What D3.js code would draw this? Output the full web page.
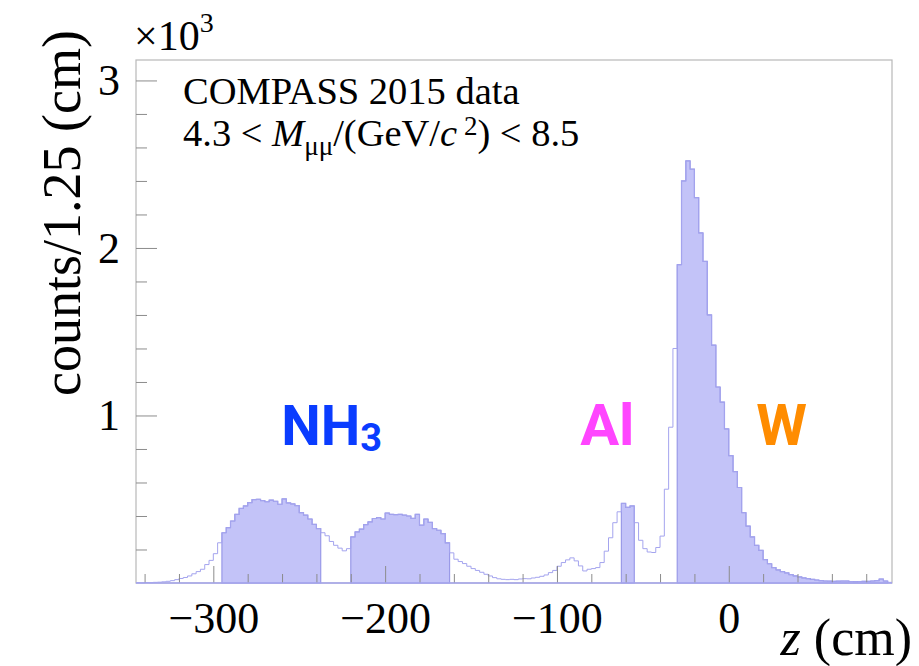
<!DOCTYPE html>
<html>
<head>
<meta charset="utf-8">
<script src="https://cdn.jsdelivr.net/npm/d3@7"></script>
<style>
  body { margin: 0; background: #fff; }
</style>
</head>
<body>
<div id="chart"></div>
<script>
// histogram bins along z, 2.5 cm wide, first edge at -345 cm
let binStart = -345;
let binWidth = 2.5;
let counts = [
  2, 1, 3, 2, 4, 5, 7, 10, 14, 20,
  27, 33, 42, 55, 68, 82, 110, 135, 175, 240,
  300, 330, 370, 410, 445, 460, 480, 498, 500, 492,
  485, 495, 488, 470, 502, 478, 472, 462, 420, 405,
  382, 350, 325, 300, 282, 248, 225, 208, 192, 205,
  275, 305, 322, 348, 365, 385, 390, 382, 418, 410,
  408, 410, 405, 400, 386, 410, 345, 382, 362, 325,
  315, 295, 240, 180, 142, 128, 116, 100, 86, 75,
  64, 52, 42, 32, 25, 22, 20, 22, 20, 24,
  26, 25, 30, 34, 40, 48, 62, 75, 100, 122,
  138, 150, 132, 102, 72, 82, 86, 92, 122, 190,
  270, 360, 425, 475, 452, 460, 360, 255, 205, 185,
  182, 212, 280, 560, 930, 1400, 1900, 2400, 2520, 2470,
  2300, 2090, 1920, 1600, 1420, 1170, 1080, 920, 760, 665,
  570, 420, 340, 275, 225, 195, 140, 115, 92, 78,
  68, 60, 50, 42, 36, 30, 26, 22, 18, 14,
  12, 11, 10, 11, 12, 12, 9, 8, 9, 10,
  10, 12, 14, 24, 12, 4
];

// z ranges of the target cells (shaded)
let cellCuts = [[-295, -237.5], [-220, -162.5], [-62.5, -55], [-30, 92.5]];

let xTickValues = [-300, -200, -100, 0];
let yTickValues = [1000, 2000, 3000];

let targetNames = ["NH", "Al", "W"];
let targetColors = ["#0a3cff", "#ff45ff", "#ff8c00"];

let serif = "Liberation Serif, Times New Roman, serif";

let W = 919, H = 666;
let margin = {top: 60, left: 136, bottom: 83, right: 27};

let xScale = d3.scaleLinear()
  .domain([-345, 95])
  .range([margin.left, W - margin.right]);

let yScale = d3.scaleLinear()
  .domain([0, 3122])
  .range([H - margin.bottom, margin.top]);

let svg = d3.select("#chart").append("svg")
    .attr("width", W)
    .attr("height", H);

let bins = counts.map((c, i) => ({x0: binStart + i * binWidth, v: c}));

function stepPoints(bs) {
  let pts = bs.map(d => [d.x0, d.v]);
  let last = bs[bs.length - 1];
  pts.push([last.x0 + binWidth, last.v]);
  return pts;
}

let line = d3.line()
  .x(d => xScale(d[0]))
  .y(d => yScale(d[1]))
  .curve(d3.curveStepAfter);

let area = d3.area()
  .x(d => xScale(d[0]))
  .y0(yScale(0))
  .y1(d => yScale(d[1]))
  .curve(d3.curveStepAfter);

// frame
svg.append("rect")
  .attr("x", margin.left)
  .attr("y", margin.top)
  .attr("width", W - margin.left - margin.right)
  .attr("height", H - margin.top - margin.bottom)
  .attr("fill", "none")
  .attr("stroke", "#b8b8b8")
  .attr("stroke-width", 1.2);

// shaded cells
cellCuts.forEach(c => {
  let sel = bins.filter(d => d.x0 >= c[0] - 0.01 && d.x0 + binWidth <= c[1] + 0.01);
  svg.append("path")
    .datum(stepPoints(sel))
    .attr("fill", "#c3c3f8")
    .attr("stroke", "#9a9ae8")
    .attr("stroke-width", 1.2)
    .attr("d", area);
});

// full outline
svg.append("path")
  .datum(stepPoints(bins))
  .attr("fill", "none")
  .attr("stroke", "#a4a4ee")
  .attr("stroke-width", 1)
  .attr("d", line);

// x axis (ticks pointing inward)
let xMinor = d3.range(-340, 95, 20).filter(v => v % 100 !== 0);
svg.append("g")
  .attr("transform", `translate(0, ${yScale(0)})`)
  .call(d3.axisBottom(xScale).tickValues(xMinor).tickSize(-9).tickFormat(""))
  .call(g => g.select(".domain").remove())
  .call(g => g.selectAll("line").attr("stroke", "#8c8c8c"));

svg.append("g")
  .attr("transform", `translate(0, ${yScale(0)})`)
  .attr("font-family", serif)
  .call(d3.axisBottom(xScale).tickValues(xTickValues).tickSize(-17).tickPadding(19))
  .call(g => g.select(".domain").remove())
  .call(g => g.selectAll("line").attr("stroke", "#8c8c8c"))
  .call(g => g.attr("font-family", serif).attr("font-size", 44))
  .call(g => g.selectAll("text").attr("fill", "#000"));

// bottom edge drawn in histogram colour
svg.append("line")
  .attr("x1", xScale(-345)).attr("x2", xScale(95))
  .attr("y1", yScale(0)).attr("y2", yScale(0))
  .attr("stroke", "#a4a4ee")
  .attr("stroke-width", 1.5);

// y axis
let yMinor = d3.range(200, 3001, 200).filter(v => v % 1000 !== 0);
svg.append("g")
  .attr("transform", `translate(${margin.left}, 0)`)
  .call(d3.axisLeft(yScale).tickValues(yMinor).tickSize(-11).tickFormat(""))
  .call(g => g.select(".domain").remove())
  .call(g => g.selectAll("line").attr("stroke", "#8c8c8c"));

svg.append("g")
  .attr("transform", `translate(${margin.left}, 0)`)
  .call(d3.axisLeft(yScale).tickValues(yTickValues).tickSize(-21).tickPadding(16)
    .tickFormat(d => d / 1000))
  .call(g => g.select(".domain").remove())
  .call(g => g.selectAll("line").attr("stroke", "#8c8c8c"))
  .call(g => g.attr("font-family", serif).attr("font-size", 44))
  .call(g => g.selectAll("text").attr("fill", "#000"));

// x10^3
let mult = svg.append("text")
  .attr("x", 134).attr("y", 50)
  .attr("font-family", serif)
  .attr("font-size", 42);
mult.append("tspan").text("\u00d710");
mult.append("tspan").attr("font-size", 28).attr("dy", -18).text("3");

// axis titles
svg.append("text")
  .attr("transform", "translate(80, 30) rotate(-90)")
  .attr("text-anchor", "end")
  .attr("font-family", serif)
  .attr("font-size", 54)
  .text("counts/1.25 (cm)");

let xt = svg.append("text")
  .attr("x", 912).attr("y", 655)
  .attr("text-anchor", "end")
  .attr("font-family", serif)
  .attr("font-size", 52);
xt.append("tspan").attr("font-style", "italic").text("z");
xt.append("tspan").text(" (cm)");

// caption
svg.append("text")
  .attr("x", 183).attr("y", 104)
  .attr("font-family", serif)
  .attr("font-size", 38.5)
  .text("COMPASS 2015 data");

let cap = svg.append("text")
  .attr("x", 183).attr("y", 146)
  .attr("font-family", serif)
  .attr("font-size", 38.5);
cap.append("tspan").text("4.3 < ");
cap.append("tspan").attr("font-style", "italic").text("M");
cap.append("tspan").attr("font-size", 27).attr("dy", 9).text("\u03bc\u03bc");
cap.append("tspan").attr("dy", -9).text("/(GeV/");
cap.append("tspan").attr("font-style", "italic").text("c");
cap.append("tspan").attr("font-size", 27).attr("dy", -11).text("\u20052");
cap.append("tspan").attr("dy", 11).text(") < 8.5");

// target labels
let lab0 = svg.append("text")
  .attr("x", xScale(-260.5)).attr("y", 445)
  .attr("font-family", "Roboto").attr("font-weight", 700)
  .attr("font-size", 56)
  .attr("fill", targetColors[0]);
lab0.append("tspan").text(targetNames[0]);
lab0.append("tspan").attr("font-size", 38).attr("dy", 6).text("3");

svg.append("text")
  .attr("x", xScale(-86.5)).attr("y", 445)
  .attr("font-family", "Roboto").attr("font-weight", 700)
  .attr("font-size", 58)
  .attr("fill", targetColors[1])
  .text(targetNames[1]);

svg.append("text")
  .attr("x", xScale(16)).attr("y", 445)
  .attr("font-family", "Roboto").attr("font-weight", 700)
  .attr("font-size", 58)
  .attr("fill", targetColors[2])
  .text(targetNames[2]);
</script>
</body>
</html>
